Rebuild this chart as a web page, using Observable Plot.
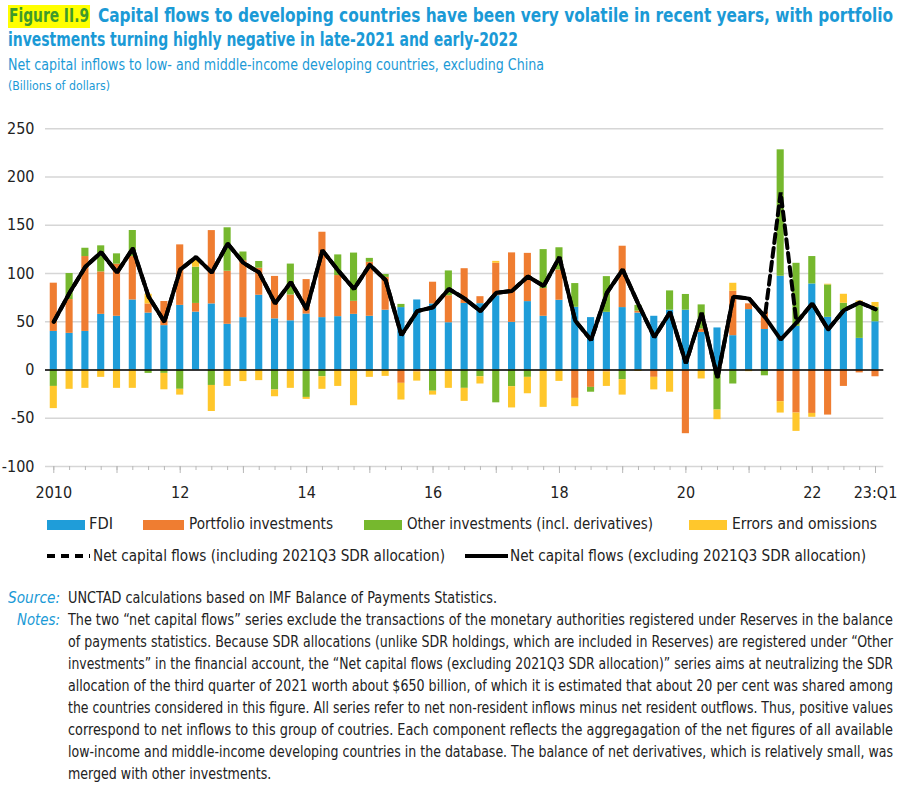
<!DOCTYPE html>
<html>
<head>
<meta charset="utf-8">
<script src="https://cdn.jsdelivr.net/npm/d3@7"></script>
<script src="https://cdn.jsdelivr.net/npm/@observablehq/plot@0.6"></script>
<style>
  html, body { margin: 0; padding: 0; background: #fff; }
  body {
    width: 900px; height: 789px; position: relative; overflow: hidden;
    font-family: "Liberation Sans Narrow", "DejaVu Sans Condensed", "Roboto Condensed", Roboto, sans-serif;
    font-stretch: condensed; color: #222;
  }
  .abs { position: absolute; white-space: nowrap; transform-origin: 0 50%; }
  .title { font-weight: bold; font-size: 19.5px; color: #1b9ad6; line-height: 24px; }
  .fig { position: absolute; left: 8px; top: 5px; width: 82px; height: 23px; background: #ffff00; }
  .figtxt { color: #3f9a2b; }
  .sub { font-size: 16px; color: #1b9ad6; }
  .unit { font-size: 13px; color: #1b9ad6; }
  #chart { position: absolute; left: 0; top: 100px; }
  .leg { font-size: 16px; line-height: 20px; }
  .sw { position: absolute; height: 10px; }
  .src-k { font-style: italic; color: #1b9ad6; font-size: 15.5px; line-height: 22px; }
  .note { font-size: 15.5px; line-height: 22px; }
</style>
</head>
<body>
<div class="fig"></div>
<div class="abs title figtxt" id="figLabel" style="left:9px;top:4px">Figure II.9</div>
<div class="abs title" id="title1" style="left:98px;top:4px">Capital flows to developing countries have been very volatile in recent years, with portfolio</div>
<div class="abs title" id="title2" style="left:8px;top:28px">investments turning highly negative in late-2021 and early-2022</div>
<div class="abs sub" id="subtitle" style="left:8px;top:55px">Net capital inflows to low- and middle-income developing countries, excluding China</div>
<div class="abs unit" id="unit" style="left:8px;top:78px">(Billions of dollars)</div>
<div id="chart"></div>
<div id="legend"></div>
<div id="notes"></div>
<script>
// Quarterly periods, 2010Q1 to 2023Q1
const years = [2010, 2011, 2012, 2013, 2014, 2015, 2016, 2017, 2018, 2019, 2020, 2021, 2022, 2023];
const quarterNames = ["Q1", "Q2", "Q3", "Q4"];
const quarters = years.flatMap(y => quarterNames.map(q => y + q)).slice(0, 53);

// Components of net capital inflows (billions of dollars), one value per quarter
const fdi = [
  40, 38, 40, 57.7,     55.7, 72.6, 59, 46,      67, 60, 68.5, 47.4,    54.3, 77.5, 53, 51,
  58, 54.3, 55.3, 57.7, 55.7, 62, 64.7, 72.6,    68.5, 49, 69, 68.8,    77, 49.4, 70.9, 55.7,
  72.3, 65, 54.3, 59.8, 64.7, 59, 55.7, 62,      62, 39, 43.6, 35.6,    62.6, 42, 97.2, 45.3,
  89.2, 54.6, 61.5, 32.8, 50
];
const portfolio = [
  50, 35, 77.6, 44,     54, 45, 9.5, 25,         62.7, 9, 76, 55,       59, 28, 44, 26.8,
  35.7, 88.5, 42.6, 13.5, 56, 34, -13.8, -2,     22.5, 28, 36, 7.2,     33.6, 72, 50, 28.7,
  31.4, -29.4, -18, -2, 63.6, 2, -7.6, 0,        -66, 3.5, 0, 46,       6, 18, -32.8, -44.6,
  -45, -46.7, -17, -3, -7
];
const other = [
  -17, 27, 8.6, 27,     10.7, 27, -3.5, -3.5,    -20, 37.5, -16, 45,    9, 7, -20.7, 32,
  -28.4, -7, 21.4, 50,  4, 3, 3.3, 0,            -22, 25.7, -19, -7,    -34, -17.3, -7.6, 40.4,
  23, 24.6, -5, 37,     -10, 6, 0, 20,           16.3, 25, -41.5, -14.5, 0, -6, 131, 65.3,
  28.4, 33.6, 7.7, 37.4, 15
];
const errors = [
  -23, -20, -19, -7.6,  -19, -19, 10, -17,       -6, 9, -27, -17,       -12, -11, -7, -19,
  -2, -13, -17, -37,    -7.6, -6.6, -17.3, -9.5, -4, -19, -13.5, -7.5,  2, -22, -17, -38.7,
  -11.8, -8.6, 0, -15,  -16, -1.5, -13, -23,     0, -9.3, -10, 8.3,     -1.7, 0, -11.8, -19,
  -4, 0.7, 9.3, 1.4, 5
];

// Net capital flows, excluding and including the 2021Q3 SDR allocation
const netExcl = [
  50, 80, 107, 122,     101, 126, 76, 50,        104, 117, 101, 131,    111, 101, 69, 91,
  63, 124, 103, 84,     109, 93, 36, 61,         65, 84, 74, 61,        80, 82, 97, 87,
  117, 51, 31, 80,      104, 68, 34, 60,         7, 59, -8, 76,         74, 55, 31.5, 49,
  69, 42, 62, 70, 63
];
const netIncl = [
  50, 80, 107, 122,     101, 126, 76, 50,        104, 117, 101, 131,    111, 101, 69, 91,
  63, 124, 103, 84,     109, 93, 36, 61,         65, 84, 74, 61,        80, 82, 97, 87,
  117, 51, 31, 80,      104, 68, 34, 60,         7, 59, -8, 76,         74, 55, 184, 49,
  69, 42, 62, 70, 63
];

const components = ["FDI", "Portfolio investments", "Other investments (incl. derivatives)", "Errors and omissions"];
const componentValues = [fdi, portfolio, other, errors];
const componentColors = ["#1f9dd9", "#ef7d31", "#76b82e", "#ffc72c"];

const yTicks = [-100, -50, 0, 50, 100, 150, 200, 250];
const labelQuarters = ["2010Q1", "2012Q1", "2014Q1", "2016Q1", "2018Q1", "2020Q1", "2022Q1", "2023Q1"];
const labelTexts = ["2010", "12", "14", "16", "18", "20", "22", "23:Q1"];
const yearStarts = quarters.filter(q => q.endsWith("Q1"));

// Long-format table for the stacked bars (component-major so each quarter stacks FDI first)
const rows = components.flatMap((c, ci) => quarters.map((q, i) => ({quarter: q, component: c, value: componentValues[ci][i]})));
const lineExcl = quarters.map((q, i) => ({quarter: q, value: netExcl[i]}));
const lineIncl = quarters.map((q, i) => ({quarter: q, value: netIncl[i]}));

const fontStack = '"Liberation Sans Narrow", "DejaVu Sans Condensed", "Roboto Condensed", Roboto, sans-serif';

const chart = Plot.plot({
  width: 900,
  height: 405,
  marginLeft: 45,
  marginRight: 16.7,
  marginTop: 28.3,
  marginBottom: 39,
  style: {fontFamily: fontStack, fontSize: "16px", color: "#222", background: "transparent"},
  x: {type: "band", domain: quarters, paddingInner: 0.55, paddingOuter: 0.3, axis: null, label: null},
  y: {domain: [-100, 250], axis: null, label: null},
  color: {domain: components, range: componentColors},
  marks: [
    Plot.ruleY(yTicks, {stroke: "#d6d6d6", strokeWidth: 1.5}),
    Plot.axisY({ticks: yTicks, tickSize: 0, tickPadding: 11, label: null, tickFormat: d => String(d)}),
    Plot.barY(rows, {x: "quarter", y: "value", fill: "component"}),
    Plot.ruleY([0], {stroke: "#000", strokeWidth: 1.5}),
    Plot.axisX({ticks: quarters, tickSize: 4, stroke: "#b8b8b8", label: null, tickFormat: () => ""}),
    Plot.axisX({ticks: yearStarts, tickSize: 7, stroke: "#b8b8b8", label: null, tickFormat: () => ""}),
    Plot.axisX({ticks: labelQuarters, tickSize: 0, tickPadding: 20, label: null, tickFormat: q => labelTexts[labelQuarters.indexOf(q)]}),
    Plot.line(lineIncl, {x: "quarter", y: "value", stroke: "#000", strokeWidth: 4, strokeDasharray: "9,5", strokeLinejoin: "miter"}),
    Plot.line(lineExcl, {x: "quarter", y: "value", stroke: "#000", strokeWidth: 4, strokeLinejoin: "miter"})
  ]
});
document.getElementById("chart").append(chart);

// Squeeze a text block horizontally so it spans the given width (condensed face)
function fitWidth(el, width) {
  const natural = el.getBoundingClientRect().width;
  const k = width / natural;
  el.style.transform = `scaleX(${k})`;
  return k;
}
function textBlock(parent, cls, left, top, html) {
  const d = document.createElement("div");
  d.className = "abs " + cls;
  d.style.left = left + "px";
  d.style.top = top + "px";
  d.innerHTML = html;
  parent.append(d);
  return d;
}

fitWidth(document.getElementById("figLabel"), 80);
fitWidth(document.getElementById("title1"), 795);
fitWidth(document.getElementById("title2"), 510);
fitWidth(document.getElementById("subtitle"), 536);
fitWidth(document.getElementById("unit"), 102);

// Legend
const legend = document.getElementById("legend");
const legendRow1 = [
  {sw: [47, 85], text: [89, 113]},
  {sw: [143, 184], text: [189, 333]},
  {sw: [364, 402], text: [407, 653]},
  {sw: [689, 727], text: [732, 877]}
];
legendRow1.forEach(({sw, text}, ci) => {
  const s = document.createElement("div");
  s.className = "sw";
  s.style.left = sw[0] + "px";
  s.style.width = (sw[1] - sw[0]) + "px";
  s.style.top = "520px";
  s.style.background = componentColors[ci];
  legend.append(s);
  const t = textBlock(legend, "leg", text[0], 514, components[ci]);
  fitWidth(t, text[1] - text[0]);
});
const legendRow2 = [
  {sw: [47, 90], text: [93, 445], label: "Net capital flows (including 2021Q3 SDR allocation)", dash: "8,6"},
  {sw: [465, 508], text: [510, 866], label: "Net capital flows (excluding 2021Q3 SDR allocation)", dash: null}
];
legendRow2.forEach(({sw, text, label, dash}) => {
  const w = sw[1] - sw[0];
  const s = document.createElement("div");
  s.style.position = "absolute";
  s.style.left = sw[0] + "px";
  s.style.top = "551px";
  s.innerHTML = `<svg width="${w}" height="10" style="display:block"><line x1="0" x2="${w}" y1="5" y2="5" stroke="#000" stroke-width="4" ${dash ? `stroke-dasharray="${dash}"` : ""}/></svg>`;
  legend.append(s);
  const t = textBlock(legend, "leg", text[0], 546, label);
  fitWidth(t, text[1] - text[0]);
});

// Source and notes
const notesEl = document.getElementById("notes");
const noteLines = [
  "The two “net capital flows” series exclude the transactions of the monetary authorities registered under Reserves in the balance",
  "of payments statistics. Because SDR allocations (unlike SDR holdings, which are included in Reserves) are registered under “Other",
  "investments” in the financial account, the “Net capital flows (excluding 2021Q3 SDR allocation)” series aims at neutralizing the SDR",
  "allocation of the third quarter of 2021 worth about $650 billion, of which it is estimated that about 20 per cent was shared among",
  "the countries considered in this figure. All series refer to net non-resident inflows minus net resident outflows. Thus, positive values",
  "correspond to net inflows to this group of coutries. Each component reflects the aggregagation of the net figures of all available",
  "low-income and middle-income developing countries in the database. The balance of net derivatives, which is relatively small, was",
  "merged with other investments."
];
fitWidth(textBlock(notesEl, "src-k", 8, 587, "Source:"), 52);
fitWidth(textBlock(notesEl, "note", 68, 587, "UNCTAD calculations based on IMF Balance of Payments Statistics."), 429);
fitWidth(textBlock(notesEl, "src-k", 17, 609, "Notes:"), 43);
let kSum = 0;
noteLines.forEach((line, i) => {
  const el = textBlock(notesEl, "note", 68, 609 + i * 22, line);
  if (i < noteLines.length - 1) {
    kSum += fitWidth(el, 825);
  } else {
    el.style.transform = `scaleX(${kSum / (noteLines.length - 1)})`;
  }
});
</script>
</body>
</html>
